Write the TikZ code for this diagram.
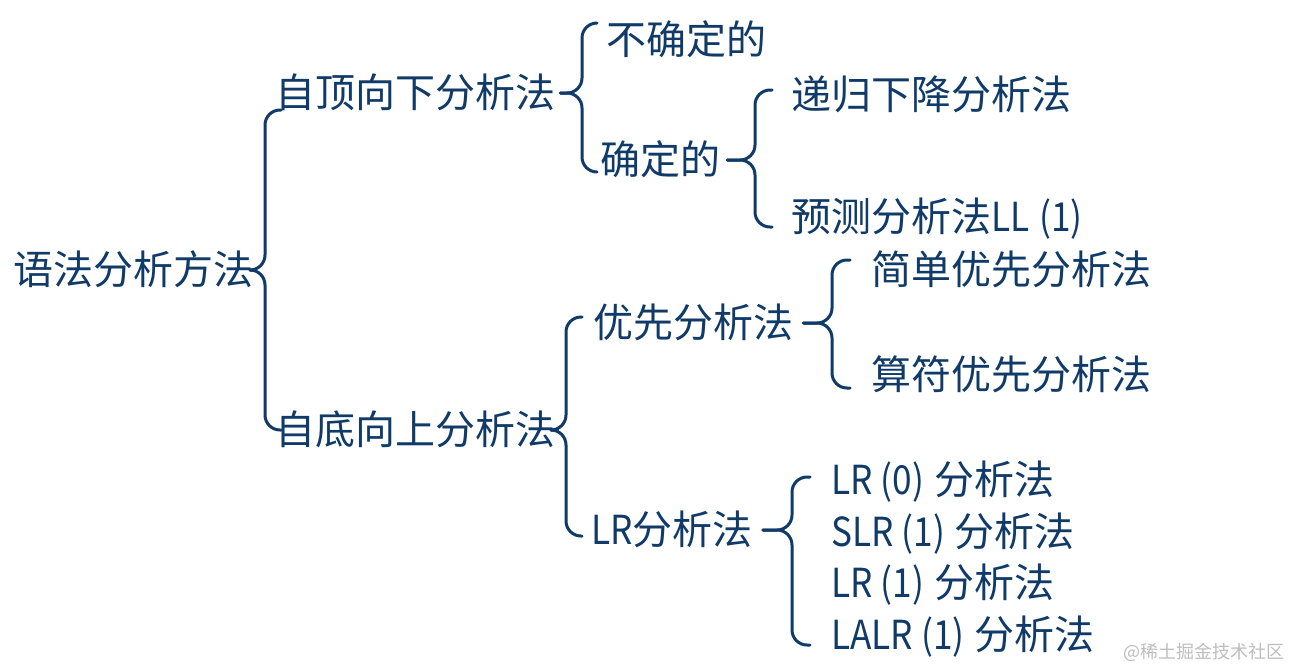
\documentclass[tikz,border=0pt]{standalone}
\usepackage{fontspec}
\setmainfont{Noto Sans CJK SC}
\newfontfamily\lat[FakeStretch=0.88]{Noto Sans CJK SC}
\definecolor{navy}{RGB}{16,58,104}
\definecolor{wm}{RGB}{190,190,190}
\tikzset{
  lbl/.style={anchor=west,inner sep=0pt,text=navy,font=\fontsize{40}{41}\selectfont,text height=32pt,text depth=3pt},
  br/.style={draw=navy,line width=3pt,rounded corners=15pt,line cap=round,line join=round}
}
\newcommand\curly[6]{% parent, gap, vx, top, bottom, hook x
  \coordinate (#1vt) at (#3,#4);
  \coordinate (#1vb) at (#3,#5);
  \coordinate (#1ht) at (#6,#4);
  \coordinate (#1hb) at (#6,#5);
  \draw[br] ([xshift=#2pt]#1.east) -- (#1vt |- #1.east) -- (#1vt) -- (#1ht);
  \draw[br] ([xshift=#2pt]#1.east) -- (#1vb |- #1.east) -- (#1vb) -- (#1hb);
}
\begin{document}
\begin{tikzpicture}[x=1pt,y=-1pt]
\useasboundingbox[fill=white] (0,0) rectangle (1290,670);
\node[lbl] (root) at (13,270) {语法分析方法};
\node[lbl] (td) at (275,93) {自顶向下分析法};
\node[lbl] (bu) at (275,430) {自底向上分析法};
\node[lbl] (nd) at (606,40) {不确定的};
\node[lbl] (d) at (600,160) {确定的};
\node[lbl] (rd) at (791,95) {递归下降分析法};
\node[lbl] (pd) at (791,217) {预测分析法{\lat LL\hspace{10pt}(1)}};
\node[lbl] (pr) at (593,323) {优先分析法};
\node[lbl] (sp) at (871,270) {简单优先分析法};
\node[lbl] (op) at (871,375) {算符优先分析法};
\node[lbl] (lr) at (591,530) {{\lat LR}分析法};
\node[lbl] (lr0) at (831,480) {{\lat LR\hspace{8pt}(0)}\hspace{10pt}分析法};
\node[lbl] (slr) at (831,532) {{\lat SLR\hspace{8pt}(1)}\hspace{10pt}分析法};
\node[lbl] (lr1) at (831,583) {{\lat LR\hspace{8pt}(1)}\hspace{10pt}分析法};
\node[lbl] (lalr) at (831,635) {{\lat LALR\hspace{8pt}(1)}\hspace{10pt}分析法};
\curly{root}{0}{265}{110}{430}{281}
\curly{td}{5}{582}{23}{172}{597}
\curly{d}{7}{755}{90}{227}{772}
\curly{pr}{10}{832}{260}{388}{850}
\curly{bu}{2}{566}{317}{536}{582}
\curly{lr}{10}{792}{477}{645}{810}
\node[anchor=east,inner sep=0pt,text=wm,font=\fontsize{18}{20}\selectfont] (wmk) at (1285,652) {@稀土掘金技术社区};
\end{tikzpicture}
\end{document}
